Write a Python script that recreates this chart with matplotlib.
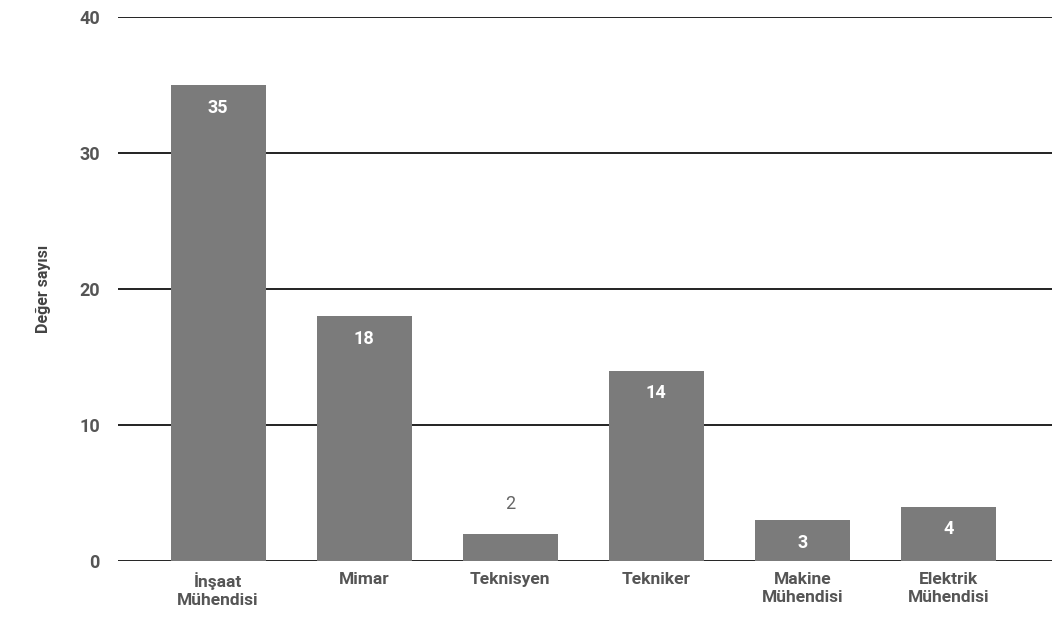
import matplotlib.pyplot as plt

categories = ["İnşaat\nMühendisi", "Mimar", "Teknisyen", "Tekniker",
              "Makine\nMühendisi", "Elektrik\nMühendisi"]
values = [35, 18, 2, 14, 3, 4]
yticks = [0, 10, 20, 30, 40]

plt.rcParams['font.family'] = ['Roboto', 'DejaVu Sans']

fig = plt.figure(figsize=(10.52, 6.33), dpi=100)
ax = fig.add_axes([118 / 1052, 1 - 561 / 633, 1 - 118 / 1052, (561 - 17) / 633])

x = list(range(len(categories)))
bars = ax.bar(x, values, width=0.65, color='#7b7b7b', zorder=3)

for b, v in zip(bars, values):
    cx = b.get_x() + b.get_width() / 2
    if v >= 3:
        ax.text(cx, v - 1.0, str(v), ha='center', va='top', color='white',
                fontsize=13, fontweight='bold', zorder=4)
    else:
        ax.text(cx, v + 1.5, str(v), ha='center', va='bottom', color='#666666',
                fontsize=13, zorder=4)

ax.set_ylim(0, 40)
ax.set_xlim(-0.685, 5.71)
ax.set_yticks(yticks)
ax.set_yticklabels([str(t) for t in yticks], fontsize=13, fontweight='bold', color='#555555')
ax.set_xticks(x)
ax.set_xticklabels(categories, fontsize=12.5, fontweight='bold', color='#555555',
                   linespacing=1.25)
ax.tick_params(axis='y', length=0, pad=13)
ax.tick_params(axis='x', length=0, pad=8)

ax.grid(axis='y', color='#111111', linewidth=1.3, zorder=0)
ax.grid(axis='x', visible=False)
for s in ax.spines.values():
    s.set_visible(False)

ax.set_ylabel("Değer sayısı", fontsize=11.5, fontweight='bold', color='#444444', labelpad=20)

fig.savefig("out.png", dpi=100)
